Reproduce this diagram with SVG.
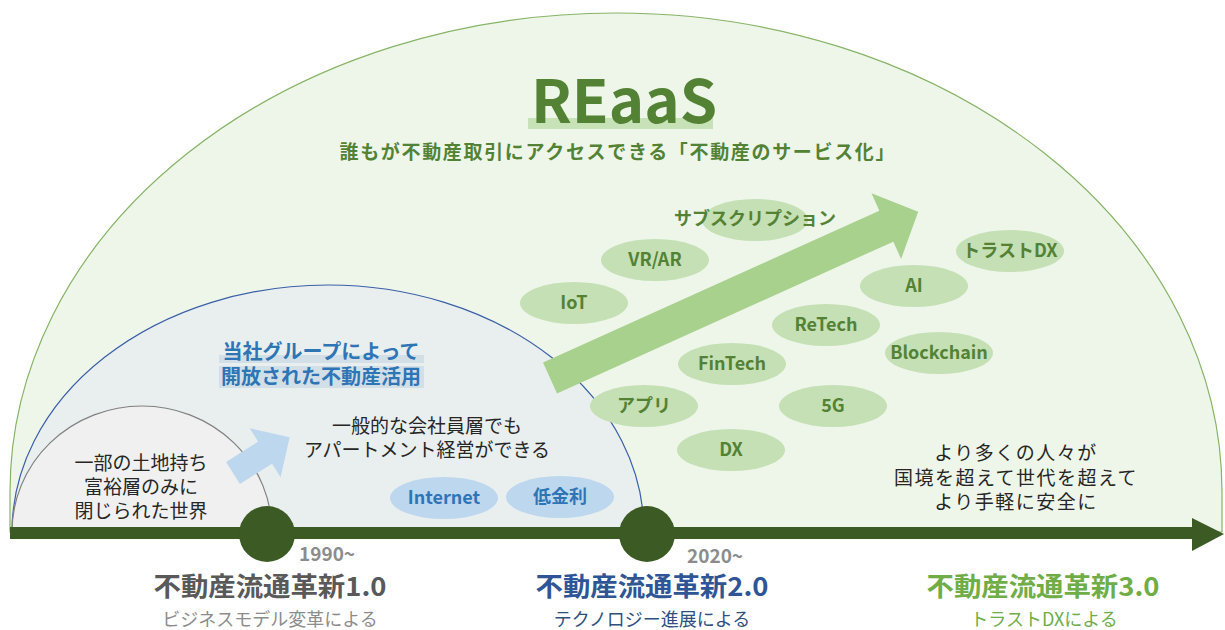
<svg xmlns="http://www.w3.org/2000/svg" width="1225" height="630" viewBox="0 0 1225 630">
<style>
text{font-family:"Noto Sans CJK JP","Noto Sans",sans-serif;}
.b{font-weight:700;}
.gb{fill:#c5e0b4;}
.gt{fill:#548235;font-weight:700;font-size:18px;text-anchor:middle;}
.bb{fill:#bdd7ee;}
.bt{fill:#2e75b6;font-weight:700;font-size:18px;text-anchor:middle;}
.body{fill:#262626;font-size:19px;text-anchor:middle;}
.title{font-weight:700;font-size:26px;text-anchor:middle;}
.sub{font-size:18px;text-anchor:middle;}
.yr{fill:#8c8c8c;font-weight:700;font-size:19px;}
</style>
<rect width="1225" height="630" fill="#ffffff"/>
<g id="outer-area">
<path d="M10,532 L10,492 A606 479 0 0 1 1222,492 L1222,532 Z" fill="#eef6ea" stroke="#86b466" stroke-width="1.2"/>
</g>
<g id="middle-area">
<path d="M12,532 A316 247 0 0 1 644,532 Z" fill="#e9efee" stroke="#3a5fa8" stroke-width="1.2"/>
</g>
<g id="inner-area">
<path d="M12,532 A130 126 0 0 1 272,532 Z" fill="#f0f0f0" stroke="#808080" stroke-width="1.2"/>
</g>
<g id="title">
<rect x="528" y="118" width="185" height="11" fill="#c8e2b8"/>
<text x="624" y="123" class="b" font-size="60" fill="#548235" text-anchor="middle">REaaS</text>
<text x="617" y="159" class="b" font-size="19" fill="#548235" text-anchor="middle" textLength="555" lengthAdjust="spacing">誰もが不動産取引にアクセスできる「不動産のサービス化」</text>
</g>
<g id="connectors">
<polygon points="0,-17 369,-17 369,-36 404,0 369,36 369,17 0,17" fill="#a9d18e" transform="translate(550,378) rotate(-24.3)"/>
<polygon points="0,-13 38,-13 38,-29 67,0 38,29 38,13 0,13" fill="#bdd7ee" transform="translate(233,473) rotate(-32.3)"/>
<rect x="10" y="527" width="1185" height="12" fill="#3b5a24"/>
<polygon points="1192,518 1224,534 1192,551" fill="#3b5a24"/>
</g>
<g id="bubble-subscription"><ellipse cx="755" cy="220" rx="53" ry="21" class="gb"/><text x="755" y="225" class="gt" font-size="17">サブスクリプション</text></g>
<g id="bubble-vrar"><ellipse cx="655" cy="260" rx="54" ry="21" class="gb"/><text x="655" y="266" class="gt">VR/AR</text></g>
<g id="bubble-iot"><ellipse cx="574" cy="303" rx="54" ry="21" class="gb"/><text x="574" y="309" class="gt">IoT</text></g>
<g id="bubble-retech"><ellipse cx="826" cy="325" rx="54" ry="21" class="gb"/><text x="826" y="331" class="gt">ReTech</text></g>
<g id="bubble-fintech"><ellipse cx="732" cy="364" rx="54" ry="21" class="gb"/><text x="732" y="370" class="gt">FinTech</text></g>
<g id="bubble-ai"><ellipse cx="914" cy="286" rx="54" ry="21" class="gb"/><text x="914" y="292" class="gt">AI</text></g>
<g id="bubble-trustdx"><ellipse cx="1010" cy="251" rx="54" ry="21" class="gb"/><text x="1010" y="257" class="gt">トラストDX</text></g>
<g id="bubble-blockchain"><ellipse cx="939" cy="353" rx="54" ry="21" class="gb"/><text x="939" y="359" class="gt">Blockchain</text></g>
<g id="bubble-app"><ellipse cx="644" cy="406" rx="54" ry="21" class="gb"/><text x="644" y="412" class="gt">アプリ</text></g>
<g id="bubble-5g"><ellipse cx="833" cy="406" rx="54" ry="21" class="gb"/><text x="833" y="412" class="gt">5G</text></g>
<g id="bubble-dx"><ellipse cx="731" cy="450" rx="54" ry="21" class="gb"/><text x="731" y="456" class="gt">DX</text></g>
<g id="bubble-internet"><ellipse cx="444" cy="498" rx="54" ry="21" class="bb"/><text x="444" y="504" class="bt">Internet</text></g>
<g id="bubble-lowrate"><ellipse cx="560" cy="497" rx="54" ry="21" class="bb"/><text x="560" y="503" class="bt">低金利</text></g>
<g id="group-label">
<rect x="219" y="355" width="205" height="8" fill="#d3dfe6"/>
<rect x="219" y="366" width="205" height="22" fill="#d3dfe6"/>
<text x="321" y="359" class="b" font-size="20" fill="#2e75b6" text-anchor="middle">当社グループによって</text>
<text x="321" y="384" class="b" font-size="20" fill="#2e75b6" text-anchor="middle">開放された不動産活用</text>
</g>
<g id="text-employees">
<text x="427" y="433" class="body">一般的な会社員層でも</text>
<text x="427" y="457" class="body">アパートメント経営ができる</text>
</g>
<g id="text-wealthy">
<text x="141" y="470" class="body">一部の土地持ち</text>
<text x="141" y="494" class="body">富裕層のみに</text>
<text x="141" y="518" class="body">閉じられた世界</text>
</g>
<g id="text-future">
<text x="1016" y="460" class="body" letter-spacing="1.5">より多くの人々が</text>
<text x="1016" y="485" class="body" letter-spacing="1.5">国境を超えて世代を超えて</text>
<text x="1016" y="509" class="body" letter-spacing="1.5">より手軽に安全に</text>
</g>
<g id="milestone-1990">
<circle cx="267" cy="534" r="28" fill="#3b5a24"/>
<text x="299" y="561" class="yr">1990~</text>
</g>
<g id="milestone-2020">
<circle cx="647" cy="534" r="28" fill="#3b5a24"/>
<text x="687" y="563" class="yr">2020~</text>
</g>
<g id="era-1">
<text x="270" y="596" class="title" fill="#595959" textLength="233" lengthAdjust="spacingAndGlyphs">不動産流通革新1.0</text>
<text x="270" y="626" class="sub" fill="#8c8c8c">ビジネスモデル変革による</text>
</g>
<g id="era-2">
<text x="652" y="596" class="title" fill="#2f5597" textLength="233" lengthAdjust="spacingAndGlyphs">不動産流通革新2.0</text>
<text x="652" y="626" class="sub" fill="#2f4f7f">テクノロジー進展による</text>
</g>
<g id="era-3">
<text x="1043" y="596" class="title" fill="#70ad47" textLength="233" lengthAdjust="spacingAndGlyphs">不動産流通革新3.0</text>
<text x="1044" y="626" class="sub" fill="#70ad47">トラストDXによる</text>
</g>
</svg>
